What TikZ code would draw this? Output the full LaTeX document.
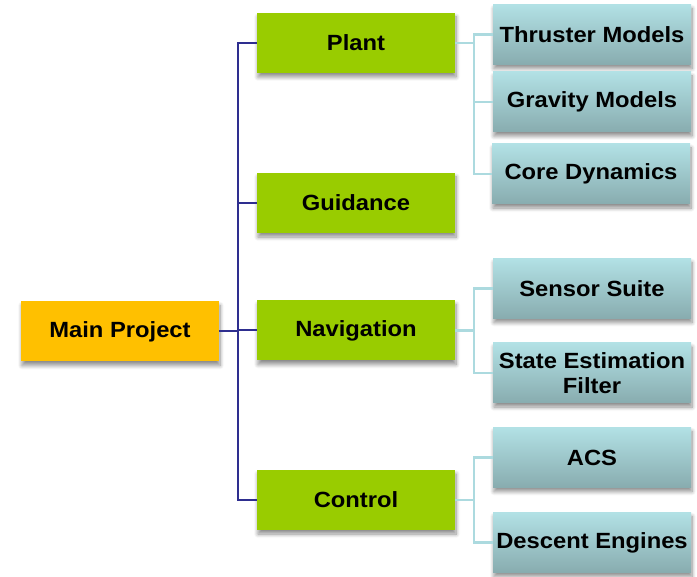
\documentclass[tikz,border=0pt]{standalone}
\usepackage{fontspec}
\setmainfont{Liberation Sans}[FakeStretch=1.08]
\usetikzlibrary{shadows.blur}

\definecolor{rootfill}{HTML}{FFC000}
\definecolor{branchfill}{HTML}{99CC00}
\definecolor{leaftop}{HTML}{B2E1E5}
\definecolor{leafbot}{HTML}{88ACAF}
\definecolor{busblue}{HTML}{2E2E8F}
\definecolor{leafline}{HTML}{ACDADF}

\tikzset{
  box/.style={rectangle, minimum width=198pt, minimum height=60pt, inner sep=0pt,
    align=center, font=\fontsize{22}{25}\selectfont\bfseries,
    blur shadow={shadow xshift=1pt, shadow yshift=-4pt, shadow blur radius=4pt,
      shadow blur steps=8, shadow opacity=45}},
  rootbox/.style={box, fill=rootfill},
  branchbox/.style={box, fill=branchfill},
  leafbox/.style={box, top color=leaftop, bottom color=leafbot},
  busline/.style={draw=busblue, line width=2pt},
  leafwire/.style={draw=leafline, line width=2.2pt},
}

\begin{document}
\begin{tikzpicture}[x=1pt, y=-1pt]
  \useasboundingbox (0,0) rectangle (697,577);

  % root and first level
  \node[rootbox]   (main)  at (120,331.5) {Main Project};
  \node[branchbox] (plant) at (356,43)    {Plant};
  \node[branchbox] (guid)  at (356,203)   {Guidance};
  \node[branchbox] (nav)   at (356,330.5) {Navigation};
  \node[branchbox] (ctrl)  at (356,500)   {Control};

  % second level
  \node[leafbox] (thr)  at (592,34.5)  {Thruster Models};
  \node[leafbox] (grav) at (592,102)   {Gravity Models};
  \node[leafbox] (core) at (591,174)   {Core Dynamics};
  \node[leafbox] (sens) at (592,288.5) {Sensor Suite};
  \node[leafbox] (est)  at (592,373)   {State Estimation\\Filter};
  \node[leafbox] (acs)  at (592,457.5) {ACS};
  \node[leafbox] (desc) at (592,542.5) {Descent Engines};

  % junction columns
  \coordinate (bus) at (238,0);
  \coordinate (lj)  at (474,0);

  % root bus
  \draw[busline] (main.east) -- (main.east -| bus);
  \draw[busline] (plant.west) -- (plant.west -| bus) -- (ctrl.west -| bus) -- (ctrl.west);
  \draw[busline] (guid.west) -- (guid.west -| bus);
  \draw[busline] (nav.west) -- (nav.west -| bus);

  % plant children
  \draw[leafwire] (plant.east) -- (plant.east -| lj);
  \draw[leafwire] (thr.west) -- (thr.west -| lj) -- (core.west -| lj) -- (core.west);
  \draw[leafwire] (grav.west) -- (grav.west -| lj);

  % navigation children
  \draw[leafwire] (nav.east) -- (nav.east -| lj);
  \draw[leafwire] (sens.west) -- (sens.west -| lj) -- (est.west -| lj) -- (est.west);

  % control children
  \draw[leafwire] (ctrl.east) -- (ctrl.east -| lj);
  \draw[leafwire] (acs.west) -- (acs.west -| lj) -- (desc.west -| lj) -- (desc.west);
\end{tikzpicture}
\end{document}
